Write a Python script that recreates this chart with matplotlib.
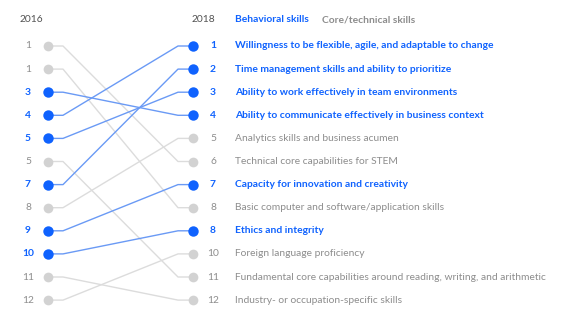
import numpy as np
import matplotlib.pyplot as plt

# skills in 2018 order
skills = [
    "Willingness to be flexible, agile, and adaptable to change",
    "Time management skills and ability to prioritize",
    "Ability to work effectively in team environments",
    "Ability to communicate effectively in business context",
    "Analytics skills and business acumen",
    "Technical core capabilities for STEM",
    "Capacity for innovation and creativity",
    "Basic computer and software/application skills",
    "Ethics and integrity",
    "Foreign language proficiency",
    "Fundamental core capabilities around reading, writing, and arithmetic",
    "Industry- or occupation-specific skills",
]
rank_2018 = [1, 2, 3, 4, 5, 6, 7, 8, 8, 10, 11, 12]
rank_2016 = [4, 7, 5, 3, 8, 1, 9, 1, 10, 12, 5, 11]
behavioral = [True, True, True, True, False, False, True, False, True, False, False, False]

BLUE = "#0f62fe"
BLUE_LINE = "#6a9af5"
GRAY_DOT = "#d2d2d2"
GRAY_LINE = "#dcdcdc"
GRAY_TEXT = "#8d8d8d"
DARK = "#525252"
FONT = "Lato"
FS = 7.4

fig = plt.figure(figsize=(5.63, 3.16), dpi=100)
ax = fig.add_axes([0, 0, 1, 1])
ax.set_xlim(0, 563)
ax.set_ylim(316, 0)
ax.axis("off")

n = len(skills)
y0, dy = 46, 23.1
x_l, x_r = 48, 193
stub = 15

# left row order: by 2016 rank, ties kept in 2018 order
order_2016 = sorted(range(n), key=lambda i: (rank_2016[i], i))
left_row = np.empty(n, dtype=int)
for row, i in enumerate(order_2016):
    left_row[i] = row

def ypos(row):
    return y0 + row * dy

# lines, gray first then blue on top
for pass_blue in (False, True):
    for i in range(n):
        if behavioral[i] != pass_blue:
            continue
        yl, yr = ypos(left_row[i]), ypos(i)
        ax.plot([x_l, x_l + stub, x_r - stub, x_r], [yl, yl, yr, yr],
                color=BLUE_LINE if pass_blue else GRAY_LINE, lw=1.0,
                zorder=2 if pass_blue else 1, solid_capstyle="round")

for i in range(n):
    b = behavioral[i]
    col = BLUE if b else GRAY_DOT
    tcol = BLUE if b else GRAY_TEXT
    w = "bold" if b else "normal"
    yl, yr = ypos(left_row[i]), ypos(i)
    ax.plot(x_l, yl, "o", ms=7.5 if b else 7, color=col, mec="none", zorder=3)
    ax.plot(x_r, yr, "o", ms=7.5 if b else 7, color=col, mec="none", zorder=3)
    ax.text(28, yl, str(rank_2016[i]), ha="center", va="center", fontsize=FS,
            color=tcol, fontweight=w, family=FONT)
    ax.text(213, yr, str(rank_2018[i]), ha="center", va="center", fontsize=FS,
            color=tcol, fontweight=w, family=FONT)
    ax.text(235, yr, skills[i], ha="left", va="center", fontsize=FS,
            color=tcol, fontweight=w, family=FONT)

ax.text(31, 20, "2016", ha="center", va="center", fontsize=FS, color=DARK, family=FONT)
ax.text(215, 20, "2018", ha="right", va="center", fontsize=FS, color=DARK, family=FONT)
ax.text(235, 20, "Behavioral skills", ha="left", va="center", fontsize=FS,
        color=BLUE, fontweight="bold", family=FONT)
ax.text(322, 20, "Core/technical skills", ha="left", va="center", fontsize=FS,
        color=GRAY_TEXT, fontweight="bold", family=FONT)

fig.savefig("out.png", dpi=100, facecolor="white")
